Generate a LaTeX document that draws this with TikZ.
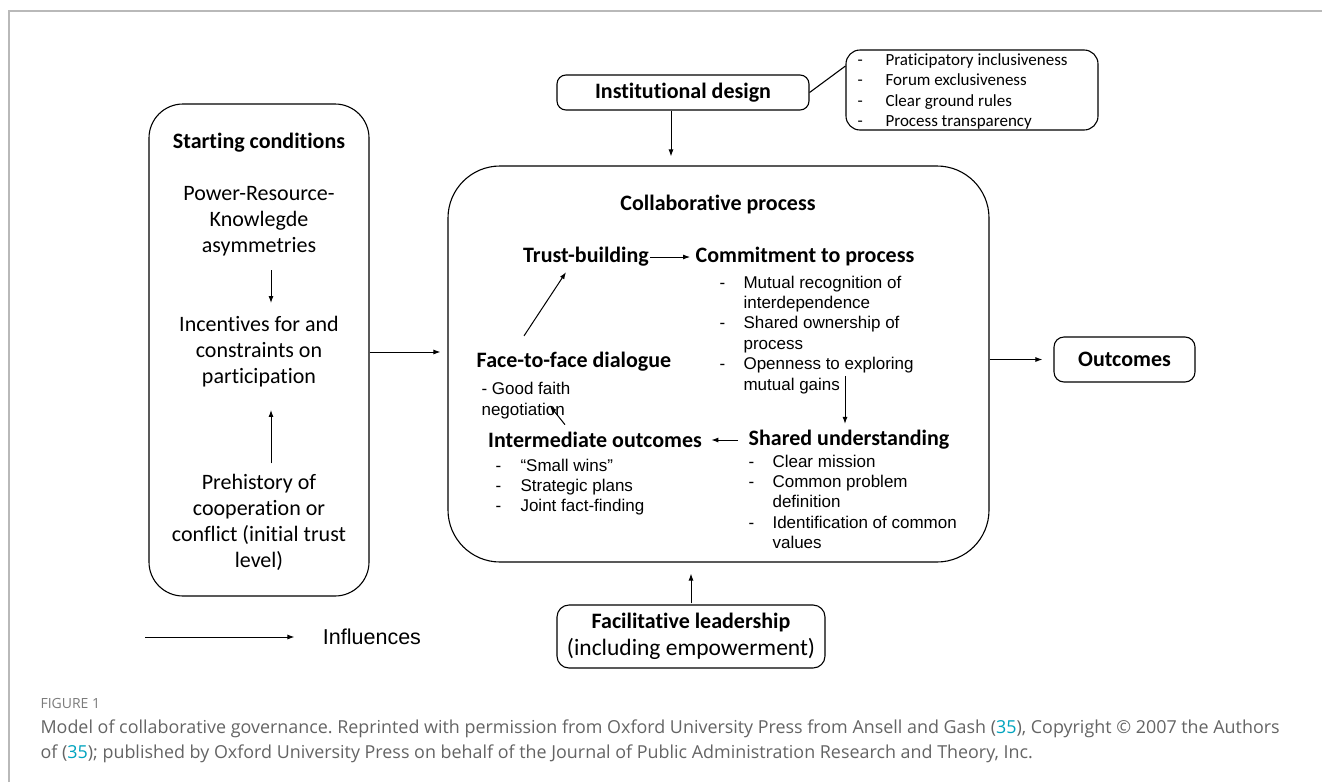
\documentclass[tikz,border=0pt]{standalone}
\usepackage{fontspec}
\setmainfont{Carlito}[Ligatures=CommonOff]
\newfontfamily\arialfont{Liberation Sans}
\newfontfamily\capfont{Open Sans}
\usetikzlibrary{arrows.meta,calc}
\frenchspacing

\definecolor{framegray}{RGB}{185,185,185}
\definecolor{capgray}{RGB}{100,100,100}
\definecolor{citeblue}{RGB}{0,163,190}

\newcommand{\dashlist}[2][24pt]{\begin{tabular}[t]{@{}p{#1}@{}l@{}}#2\end{tabular}}

\tikzset{
  box/.style={draw, rounded corners=10pt, line width=1.1pt, inner sep=0pt},
  head/.style={font=\fontsize{22}{26}\selectfont\bfseries, inner sep=1pt},
  plain/.style={font=\fontsize{22}{26}\selectfont, align=center, inner sep=2pt},
  item/.style={font=\arialfont\fontsize{17}{20.4}\selectfont, inner sep=0pt, anchor=base west},
  infl/.style={-{Latex[length=7pt,width=5pt]}, line width=1pt},
  caption/.style={font=\capfont\fontsize{17.9}{25}\selectfont, text=capgray, inner sep=0pt, anchor=base west},
}

\begin{document}
\begin{tikzpicture}[x=1pt, y=-1pt, line width=1.1pt]
  \useasboundingbox (0,0) rectangle (1322,782);
  \draw[framegray, line width=1.4pt] (9,782) -- (9,11) -- (1322,11);

  % starting conditions
  \node[box, rounded corners=34pt, minimum width=220pt, minimum height=492pt] (start) at (259,350) {};
  \node[head] (starthead) at (259,143) {Starting conditions};
  \node[plain] (power) at (259,221) {Power-Resource-\\Knowlegde\\asymmetries};
  \node[plain] (incent) at (259,352) {Incentives for and\\constraints on\\participation};
  \node[plain] (prehist) at (259,522) {Prehistory of\\cooperation or\\conflict (initial trust\\level)};
  \draw[infl, shorten <=12pt, shorten >=11pt] ([xshift=12pt]power.south) -- ([xshift=12pt]incent.north);
  \draw[infl, shorten <=8pt, shorten >=20pt] ([xshift=12pt]prehist.north) -- ([xshift=12pt]incent.south);

  % collaborative process
  \node[box, rounded corners=52pt, minimum width=541pt, minimum height=396pt] (collab) at (718.5,364) {};
  \node[head] (collabhead) at (718,205) {Collaborative process};
  \node[head] (trust) at (586,257) {Trust-building};
  \node[head] (commit) at (805,257) {Commitment to process};
  \node[item] (commitlist) at (719,288) {\dashlist{
    - & Mutual recognition of\\
      & interdependence\\
    - & Shared ownership of\\
      & process\\
    - & Openness to exploring\\
      & mutual gains}};
  \node[head] (face) at (574,362) {Face-to-face dialogue};
  \node[item, font=\arialfont\fontsize{17}{21}\selectfont] (faith) at (481,394)
    {\begin{tabular}[t]{@{}l@{}}- Good faith\\negotiation\end{tabular}};
  \node[head] (inter) at (595,440) {Intermediate outcomes};
  \node[item] (interlist) at (495,471) {\dashlist[25pt]{
    - & “Small wins”\\
    - & Strategic plans\\
    - & Joint fact-finding}};
  \node[head] (shared) at (849,440) {Shared understanding};
  \node[item] (sharedlist) at (748,467) {\dashlist{
    - & Clear mission\\
    - & Common problem\\
      & definition\\
    - & Identification of common\\
      & values}};

  \draw[infl, shorten >=4pt] (trust.east) -- (commit.west);
  \draw[infl] ($(shared.north)+(-4pt,53pt)$) -- ([shift={(-4pt,5pt)}]shared.north);
  \draw[infl, shorten <=9pt, shorten >=8pt] (shared.west) -- (inter.east);
  \draw[infl] ([shift={(-30pt,6pt)}]inter.north) -- ([shift={(24pt,16pt)}]faith.south);
  \draw[infl] ([shift={(-50pt,15pt)}]face.north) -- ([shift={(-20pt,-4pt)}]trust.south);

  % institutional design
  \node[box, rounded corners=9pt, minimum width=252pt, minimum height=35pt, font=\fontsize{22}{26}\selectfont\bfseries] (inst) at (683,92.5) {Institutional design};
  \node[box, rounded corners=14pt, minimum width=252pt, minimum height=80pt] (instbox) at (972,90) {};
  \node[item, font=\fontsize{17}{20.4}\selectfont] (instlist) at (857,65.5) {\dashlist[28pt]{
    - & Praticipatory inclusiveness\\
    - & Forum exclusiveness\\
    - & Clear ground rules\\
    - & Process transparency}};
  \draw (inst.east) -- ([yshift=24pt]instbox.west);
  \draw[infl, shorten >=9pt] ([xshift=-12pt]inst.south) -- ([xshift=-47.5pt]collab.north);

  % outcomes
  \node[box, minimum width=141pt, minimum height=45pt, font=\fontsize{22}{26}\selectfont\bfseries] (outc) at (1124.5,359.5) {Outcomes};
  \draw[infl, shorten >=11pt] (outc.west -| collab.east) -- (outc.west);
  \draw[infl, shorten >=7pt] ([yshift=-2pt]start.east) -- ([yshift=-2pt]start.east -| collab.west);

  % facilitative leadership
  \node[box, rounded corners=12pt, minimum width=268pt, minimum height=63pt, align=center, font=\fontsize{23.5}{27}\selectfont] (facil) at (691,636.5)
    {{\fontsize{22}{27}\selectfont\bfseries Facilitative leadership}\\(including empowerment)};
  \draw[infl, shorten <=1pt, shorten >=11pt] (facil.north) -- ([xshift=-27.5pt]collab.south);

  % legend
  \coordinate (legstart) at (145,637);
  \node[font=\arialfont\fontsize{21.5}{26}\selectfont, inner sep=0pt] (influences) at (372,637) {Influences};
  \draw[infl] (legstart) -- ([xshift=-28pt]influences.west);

  % caption
  \node[caption, font=\capfont\fontsize{14}{15}\selectfont, text=capgray!85] (figlabel) at (40,708) {FIGURE 1};
  \node[caption] (cap1) at (40,733) {Model of collaborative governance. Reprinted with permission from Oxford University Press from Ansell and Gash (\textcolor{citeblue}{35}), Copyright © 2007 the Authors};
  \node[caption] (cap2) at (40,758) {of (\textcolor{citeblue}{35}); published by Oxford University Press on behalf of the Journal of Public Administration Research and Theory, Inc.};
\end{tikzpicture}
\end{document}
